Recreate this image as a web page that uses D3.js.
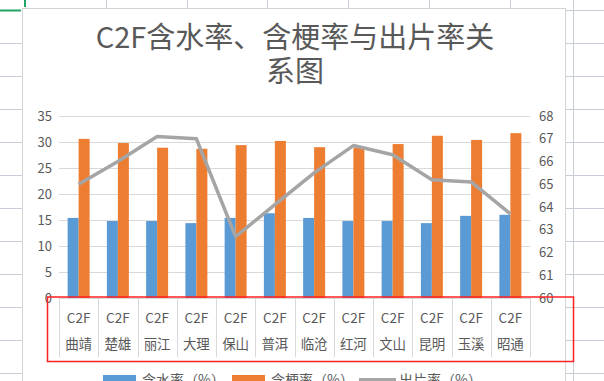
<!DOCTYPE html>
<html>
<head>
<meta charset="utf-8">
<script src="https://cdn.jsdelivr.net/npm/d3@7"></script>
<style>
  html, body { margin: 0; padding: 0; background: #fff; }
  svg { display: block; font-family: "Noto Sans CJK SC", "Noto Sans", sans-serif; }
</style>
</head>
<body>
<div id="chart"></div>
<script>
// chart data
const categories = ['曲靖', '楚雄', '丽江', '大理', '保山', '普洱', '临沧', '红河', '文山', '昆明', '玉溪', '昭通'];
const waterRate = [15.4, 14.8, 14.8, 14.4, 15.4, 16.3, 15.4, 14.8, 14.8, 14.4, 15.8, 16.0];
const stemRate = [30.6, 29.8, 28.9, 28.7, 29.4, 30.2, 29.0, 28.9, 29.6, 31.2, 30.4, 31.7];
const yieldRate = [65.0, 66.0, 67.1, 67.0, 62.7, 64.1, 65.5, 66.7, 66.3, 65.2, 65.1, 63.7];
const leftTicks = [0, 5, 10, 15, 20, 25, 30, 35];
const rightTicks = [60, 61, 62, 63, 64, 65, 66, 67, 68];
const seriesNames = ['含水率（%）', '含梗率（%）', '出片率（%）'];

const width = 604;
const height = 381;
const textColor = '#595959';
const colors = ['#5b9bd5', '#ed7d31', '#a5a5a5'];

const svg = d3.select('#chart')
  .append('svg')
  .attr('width', width)
  .attr('height', height);

// spreadsheet background grid
const sheet = svg.append('g').attr('stroke', '#c9cdd8').attr('stroke-width', 1);
d3.range(43.5, height, 33).forEach(y => {
  sheet.append('line').attr('x1', 0).attr('x2', 22).attr('y1', y).attr('y2', y);
});
d3.range(10.5, height, 33).forEach(y => {
  sheet.append('line').attr('x1', 566).attr('x2', width).attr('y1', y).attr('y2', y);
});
[106.5, 187.5, 267.5, 348.5, 429.5, 510.5].forEach(x => {
  sheet.append('line').attr('x1', x).attr('x2', x).attr('y1', 0).attr('y2', 8);
});
sheet.append('line').attr('x1', 573.5).attr('x2', 573.5).attr('y1', 0).attr('y2', height);

// selected cell marker
svg.append('line').attr('x1', 0).attr('x2', 21).attr('y1', 10.5).attr('y2', 10.5)
  .attr('stroke', '#21a366').attr('stroke-width', 2);
svg.append('line').attr('x1', 25).attr('x2', 25).attr('y1', 0).attr('y2', 7)
  .attr('stroke', '#21a366').attr('stroke-width', 2);

// chart area
svg.append('rect')
  .attr('x', 22.5).attr('y', 8.5)
  .attr('width', 543).attr('height', height)
  .attr('fill', '#fff')
  .attr('stroke', '#d4d4d4');

// title
const title = svg.append('text')
  .attr('text-anchor', 'middle')
  .attr('fill', textColor)
  .style('font-size', '29px');
title.append('tspan').attr('x', 295).attr('y', 48).text('C2F含水率、含梗率与出片率关');
title.append('tspan').attr('x', 295).attr('y', 82).text('系图');

// scales
const x = d3.scaleBand().domain(categories).range([59, 530]);
const yLeft = d3.scaleLinear().domain([0, 35]).range([298, 116]);
const yRight = d3.scaleLinear().domain([60, 68]).range([298, 116]);
const barW = x.bandwidth() * 0.28;

// gridlines
svg.append('g')
  .selectAll('line')
  .data(leftTicks.slice(1))
  .join('line')
  .attr('x1', 59).attr('x2', 530)
  .attr('y1', d => Math.round(yLeft(d)) + 0.5)
  .attr('y2', d => Math.round(yLeft(d)) + 0.5)
  .attr('stroke', '#d9d9d9');

// left axis
const leftAxis = svg.append('g')
  .attr('transform', 'translate(52,0)')
  .call(d3.axisLeft(yLeft).tickValues(leftTicks).tickSize(0).tickPadding(0));
leftAxis.select('.domain').remove();
leftAxis.selectAll('text').attr('fill', textColor).style('font-size', '13px')
  .style('font-family', '"Noto Sans CJK SC", sans-serif');

// right axis
const rightAxis = svg.append('g')
  .attr('transform', 'translate(539,0)')
  .call(d3.axisRight(yRight).tickValues(rightTicks).tickSize(0).tickPadding(0));
rightAxis.select('.domain').remove();
rightAxis.selectAll('text').attr('fill', textColor).style('font-size', '13px')
  .style('font-family', '"Noto Sans CJK SC", sans-serif');

// bars
const bars = svg.append('g');
bars.selectAll('.water')
  .data(categories)
  .join('rect')
  .attr('class', 'water')
  .attr('x', d => x(d) + x.bandwidth() / 2 - barW)
  .attr('y', (d, i) => yLeft(waterRate[i]))
  .attr('width', barW)
  .attr('height', (d, i) => yLeft(0) - yLeft(waterRate[i]))
  .attr('fill', colors[0]);
bars.selectAll('.stem')
  .data(categories)
  .join('rect')
  .attr('class', 'stem')
  .attr('x', d => x(d) + x.bandwidth() / 2)
  .attr('y', (d, i) => yLeft(stemRate[i]))
  .attr('width', barW)
  .attr('height', (d, i) => yLeft(0) - yLeft(stemRate[i]))
  .attr('fill', colors[1]);

// category axis line and label table
svg.append('line')
  .attr('x1', 59).attr('x2', 530).attr('y1', 298.5).attr('y2', 298.5)
  .attr('stroke', '#d9d9d9');
const bounds = categories.map(d => x(d)).concat([x.range()[1]]);
svg.append('g')
  .selectAll('line')
  .data(bounds)
  .join('line')
  .attr('x1', d => Math.round(d) + 0.5).attr('x2', d => Math.round(d) + 0.5)
  .attr('y1', 298).attr('y2', 357)
  .attr('stroke', '#d9d9d9');
const labels = svg.append('g')
  .attr('fill', textColor)
  .attr('text-anchor', 'middle')
  .style('font-size', '13.5px');
labels.selectAll('.code')
  .data(categories)
  .join('text')
  .attr('x', d => x(d) + x.bandwidth() / 2)
  .attr('y', 323)
  .text('C2F');
labels.selectAll('.name')
  .data(categories)
  .join('text')
  .attr('x', d => x(d) + x.bandwidth() / 2)
  .attr('y', 349)
  .text(d => d);

// yield line on the right axis
const line = d3.line()
  .x((d, i) => x(categories[i]) + x.bandwidth() / 2)
  .y(d => yRight(d));
svg.append('path')
  .datum(yieldRate)
  .attr('d', line)
  .attr('fill', 'none')
  .attr('stroke', colors[2])
  .attr('stroke-width', 3.5)
  .attr('stroke-linejoin', 'round');

// legend (cut off by the window)
const legendX = [103, 232, 359];
const legend = svg.append('g').style('font-size', '14px').attr('fill', textColor);
seriesNames.forEach((name, i) => {
  if (i < 2) {
    legend.append('rect')
      .attr('x', legendX[i]).attr('y', 375)
      .attr('width', 33).attr('height', 10)
      .attr('fill', colors[i]);
  } else {
    legend.append('line')
      .attr('x1', legendX[i]).attr('x2', legendX[i] + 37)
      .attr('y1', 380).attr('y2', 380)
      .attr('stroke', colors[i]).attr('stroke-width', 4);
  }
  legend.append('text')
    .attr('x', legendX[i] + (i < 2 ? 39 : 40))
    .attr('y', 385)
    .text(name);
});

// red highlight box drawn over the sheet
svg.append('rect')
  .attr('x', 47.5).attr('y', 297)
  .attr('width', 526).attr('height', 64.5)
  .attr('fill', 'none')
  .attr('stroke', '#ff2020')
  .attr('stroke-width', 1.5);
</script>
</body>
</html>
